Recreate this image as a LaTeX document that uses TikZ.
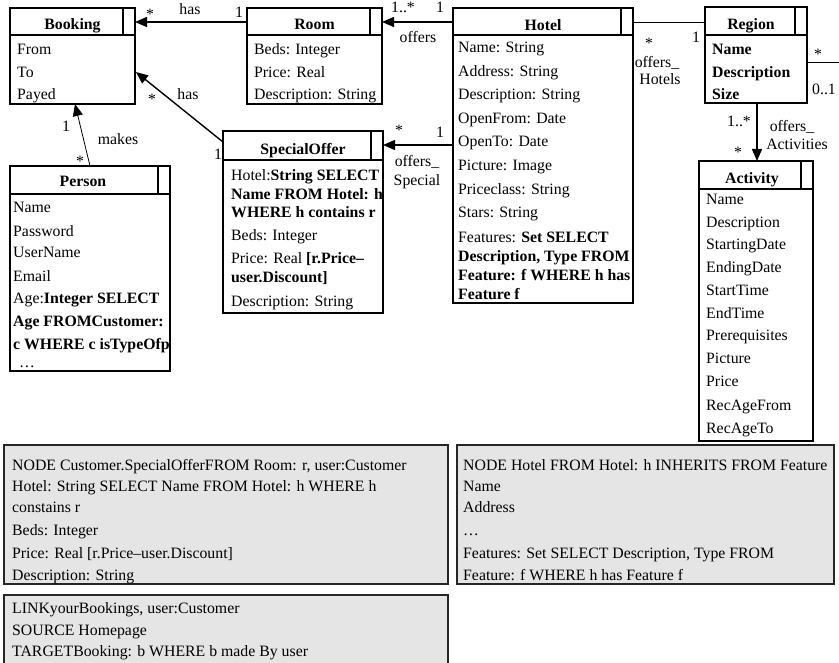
\documentclass[tikz,border=0pt]{standalone}
\usepackage{fontspec}
\setmainfont{Liberation Serif}
\usetikzlibrary{arrows.meta,fit,calc}
\newcommand{\dfont}{\fontsize{15.8}{19}\selectfont}
\newcommand{\umlclass}[7]{% name, left, top, right, bottom, header bottom, title
  \node[classbox, fit={(#2,#3) (#4,#5)}] (#1) {};
  \draw[headline] (#2,#6) -- (#4,#6);
  \draw[compline] ({#4-12},#3) -- ({#4-12},#6);
}
\tikzset{
  every node/.style={font=\dfont},
  classbox/.style={draw, line width=1.2pt, inner sep=0pt, outer sep=0pt},
  headline/.style={line width=2pt},
  compline/.style={line width=1.2pt},
  attr/.style={anchor=base west, inner sep=0pt},
  ctitle/.style={anchor=base, inner sep=0pt, font=\dfont\bfseries},
  lbl/.style={anchor=base, inner sep=0pt},
  assoc/.style={line width=1.4pt, -{Triangle[length=12pt,width=10pt]}},
  thinassoc/.style={line width=0.8pt, -{Triangle[length=12pt,width=10pt]}},
  thinline/.style={line width=1pt},
  codebox/.style={draw=black!85, line width=1.2pt, fill=black!10, inner sep=0pt},
}
\begin{document}
\begin{tikzpicture}[x=1pt,y=-1pt]
\useasboundingbox (0,0) rectangle (839,663);
\clip (0,0) rectangle (839,663);
\fill[white] (0,0) rectangle (839,663);

% ---------- Booking
\umlclass{booking}{10}{8}{135}{104}{35}{Booking}
\node[ctitle] at (72.5,30) {Booking};
\node[attr] at (17,55) {From};
\node[attr] at (17,78) {To};
\node[attr] at (17,100) {Payed};

% ---------- Room
\umlclass{room}{247}{8}{382}{104}{35}{Room}
\node[ctitle] at (314.5,30) {Room};
\node[attr] at (254,55) {Beds: Integer};
\node[attr] at (254,78) {Price: Real};
\node[attr] at (254,100) {Description: String};

% ---------- Hotel
\umlclass{hotel}{453}{8}{633}{303}{35}{Hotel}
\node[ctitle] at (543,31) {Hotel};
\node[attr] at (458,53) {Name: String};
\node[attr] at (458,77) {Address: String};
\node[attr] at (458,100) {Description: String};
\node[attr] at (458,124) {OpenFrom: Date};
\node[attr] at (458,147) {OpenTo: Date};
\node[attr] at (458,171) {Picture: Image};
\node[attr] at (458,195) {Priceclass: String};
\node[attr] at (458,218) {Stars: String};
\node[attr] at (458,243) {Features: \textbf{Set SELECT}};
\node[attr] at (458,262) {\textbf{Description, Type FROM}};
\node[attr] at (458,281) {\textbf{Feature: f WHERE h has}};
\node[attr] at (458,300) {\textbf{Feature f}};

% ---------- Region
\umlclass{region}{705}{7}{807}{103}{35}{Region}
\node[ctitle] at (751,30) {Region};
\node[attr] at (712,55) {\textbf{Name}};
\node[attr] at (712,78) {\textbf{Description}};
\node[attr] at (712,100) {\textbf{Size}};

% ---------- SpecialOffer
\umlclass{special}{223}{131}{383}{313}{160}{SpecialOffer}
\node[ctitle] at (303,155) {SpecialOffer};
\node[attr] at (231,181) {Hotel:\textbf{String SELECT}};
\node[attr] at (231,200) {\textbf{Name FROM Hotel: h}};
\node[attr] at (231,218) {\textbf{WHERE h contains r}};
\node[attr] at (231,241) {Beds: Integer};
\node[attr] at (231,264) {Price: Real \textbf{[r.Price–}};
\node[attr] at (231,283) {\textbf{user.Discount]}};
\node[attr] at (231,307) {Description: String};

% ---------- Person
\umlclass{person}{10}{166}{170}{371}{194}{Person}
\node[ctitle] at (83,187) {Person};
\node[attr] at (13,213) {Name};
\node[attr] at (13,237) {Password};
\node[attr] at (13,258) {UserName};
\node[attr] at (13,282) {Email};
\node[attr] at (13,304) {Age:\textbf{Integer SELECT}};
\node[attr] at (13,327) {\textbf{Age FROMCustomer:}};
\node[attr] at (13,350) {\textbf{c WHERE c isTypeOfp}};
\node[attr] at (19,367) {…};

% ---------- Activity
\umlclass{activity}{699}{161}{813}{441}{189}{Activity}
\node[ctitle] at (752,184) {Activity};
\node[attr] at (706,205) {Name};
\node[attr] at (706,228) {Description};
\node[attr] at (706,250) {StartingDate};
\node[attr] at (706,273) {EndingDate};
\node[attr] at (706,296) {StartTime};
\node[attr] at (706,319) {EndTime};
\node[attr] at (706,341) {Prerequisites};
\node[attr] at (706,364) {Picture};
\node[attr] at (706,387) {Price};
\node[attr] at (706,410) {RecAgeFrom};
\node[attr] at (706,433) {RecAgeTo};

% ---------- Connectors
\draw[assoc] ([yshift=-14pt]room.north west) -- ([yshift=-14pt]booking.north east);
\node[lbl] at (150,20) {*};
\node[lbl] at (190,15) {has};
\node[lbl] at (239,18) {1};

\draw[assoc] ([yshift=-14pt]hotel.north west) -- ([yshift=-14pt]room.north east);
\node[lbl] at (403,13) {1..*};
\node[lbl] at (440,13) {1};
\node[lbl] at (418,43) {offers};

\draw[assoc] ([yshift=-137pt]hotel.north west) -- ([yshift=-14pt]special.north east);
\node[lbl] at (399,136) {*};
\node[lbl] at (440,138) {1};
\node[lbl] at (417,167) {offers\_};
\node[lbl] at (417,186) {Special};

\draw[assoc] ([yshift=-11pt]special.north west) -- ([yshift=-64pt,xshift=1pt]booking.north east);
\node[lbl] at (152,105) {*};
\node[lbl] at (188,100) {has};
\node[lbl] at (218,160) {1};

\draw[thinassoc] (person.north) -- ([xshift=2.5pt]booking.south);
\node[lbl] at (66,132) {1};
\node[lbl] at (118,145) {makes};
\node[lbl] at (80,167) {*};

\draw[thinline] ([yshift=-15pt]hotel.north east) -- ([yshift=-15pt]hotel.north east -| region.west);
\node[lbl] at (649,49) {*};
\node[lbl] at (657,68) {offers\_};
\node[lbl] at (660,85) {Hotels};
\node[lbl] at (696,43) {1};

\coordinate (regionout) at (839,63);
\draw[thinline] (region.east |- regionout) -- (regionout);
\node[lbl] at (818,60) {*};
\node[lbl] at (824,95) {0..1};

\draw[assoc] ([xshift=1pt]region.south) -- ([xshift=1pt]activity.north);
\node[lbl] at (739,127) {1..*};
\node[lbl] at (738,158) {*};
\node[lbl] at (792,132) {offers\_};
\node[lbl] at (797,150) {Activities};

% ---------- Code boxes
\node[codebox, fit={(4,445) (448,584)}] (codeone) {};
\node[attr] at (12,470) {NODE Customer.SpecialOfferFROM Room: r, user:Customer};
\node[attr] at (12,491) {Hotel: String SELECT Name FROM Hotel: h WHERE h};
\node[attr] at (12,512) {constains r};
\node[attr] at (12,535) {Beds: Integer};
\node[attr] at (12,558) {Price: Real [r.Price–user.Discount]};
\node[attr] at (12,580) {Description: String};

\node[codebox, fit={(457,445) (834,584)}] (codethree) {};
\node[attr] at (463,470) {NODE Hotel FROM Hotel: h INHERITS FROM Feature};
\node[attr] at (463,491) {Name};
\node[attr] at (463,512) {Address};
\node[attr] at (463,535) {…};
\node[attr] at (463,558) {Features: Set SELECT Description, Type FROM};
\node[attr] at (463,580) {Feature: f WHERE h has Feature f};

\node[codebox, fit={(4,595) (448,690)}] (codetwo) {};
\node[attr] at (12,613) {LINKyourBookings, user:Customer};
\node[attr] at (12,635) {SOURCE Homepage};
\node[attr] at (12,656) {TARGETBooking: b WHERE b made By user};
\end{tikzpicture}
\end{document}
